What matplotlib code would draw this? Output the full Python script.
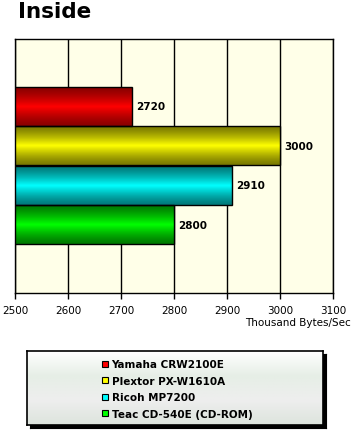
import numpy as np
import matplotlib
matplotlib.use("Agg")
import matplotlib.pyplot as plt
from matplotlib.lines import Line2D
from matplotlib.colors import LinearSegmentedColormap
from matplotlib.patches import Rectangle

title = "Inside"
drives = ["Yamaha CRW2100E", "Plextor PX-W1610A", "Ricoh MP7200", "Teac CD-540E (CD-ROM)"]
values = [2720, 3000, 2910, 2800]
bright = ["#FF0000", "#FFFF00", "#00FFFF", "#00FF00"]
dark = ["#8A0000", "#7A7A00", "#007A7A", "#007A00"]
xticks = [2500, 2600, 2700, 2800, 2900, 3000, 3100]
xlabel = "Thousand Bytes/Sec"

W, H = 355, 431
fig = plt.figure(figsize=(W / 100, H / 100), dpi=100)
fig.patch.set_facecolor("white")

def fr(x0, y0, x1, y1):
    return [x0 / W, 1 - y1 / H, (x1 - x0) / W, (y1 - y0) / H]

ax = fig.add_axes(fr(15, 40, 333, 294))
ax.set_facecolor("#FFFFE8")
ax.set_xlim(2500, 3100)
n = len(values)
ypos = np.arange(n)[::-1]  # first at top
ax.set_ylim(-1.73, n - 1 + 1.70)
h = 0.98
grad = np.abs(np.linspace(-1, 1, 64))[:, None]
for i, (v, y) in enumerate(zip(values, ypos)):
    cmap = LinearSegmentedColormap.from_list("g%d" % i, [bright[i], dark[i]])
    ax.imshow(1 - (1 - grad) ** 1.3, cmap=cmap, aspect="auto",
              extent=(2500, v, y - h / 2, y + h / 2), zorder=3, vmin=0, vmax=1,
              interpolation="bilinear")
    ax.barh(y, v - 2500, left=2500, height=h, facecolor="none",
            edgecolor="black", linewidth=1.0, zorder=4)
    ax.text(v + 8, y, str(v), ha="left", va="center", fontsize=7.5,
            fontweight="bold", color="black", zorder=5)
ax.set_xticks(xticks)
ax.set_xticklabels([str(t) for t in xticks], fontsize=7.5)
ax.set_yticks([])
ax.grid(axis="x", color="black", linewidth=1.0, zorder=1)
ax.set_axisbelow(True)
ax.tick_params(axis="x", direction="out", length=4, width=1, pad=5, colors="black")
for s in ax.spines.values():
    s.set_color("black")
    s.set_linewidth(1.0)
fig.text(351 / W, 1 - 323 / H, xlabel, ha="right", va="center", fontsize=7.5)
fig.text(18 / W, 1 - 12 / H, title, ha="left", va="center", fontsize=15.5,
         fontweight="bold")

# legend box with shadow and gradient
sh = fig.add_axes(fr(30, 355, 326, 429))
sh.set_facecolor("black")
sh.set_xticks([]); sh.set_yticks([])
lg = fig.add_axes(fr(27, 352, 323, 426))
lg.set_xticks([]); lg.set_yticks([])
lcmap = LinearSegmentedColormap.from_list("lg", ["#FFFFFF", "#E6EEE6", "#EEEEEE", "#DDE4DD"])
lg.imshow(np.linspace(0, 1, 64)[:, None], cmap=lcmap, aspect="auto",
          extent=(0, 1, 1, 0), interpolation="bilinear")
lg.set_xlim(0, 1); lg.set_ylim(1, 0)
for s in lg.spines.values():
    s.set_color("black")
    s.set_linewidth(1.2)
handles = [Line2D([], [], marker="s", linestyle="none", markersize=5,
                  markerfacecolor=bright[i], markeredgecolor="black",
                  markeredgewidth=0.8) for i in range(n)]
leg = fig.legend(handles, drives, loc="center left",
                 bbox_to_anchor=(98 / W, 1 - 390 / H), frameon=False,
                 prop={"size": 7.5, "weight": "bold"}, handlelength=0.6,
                 handletextpad=0.3, labelspacing=0.62, borderaxespad=0)
fig.savefig("out.png", dpi=100)
